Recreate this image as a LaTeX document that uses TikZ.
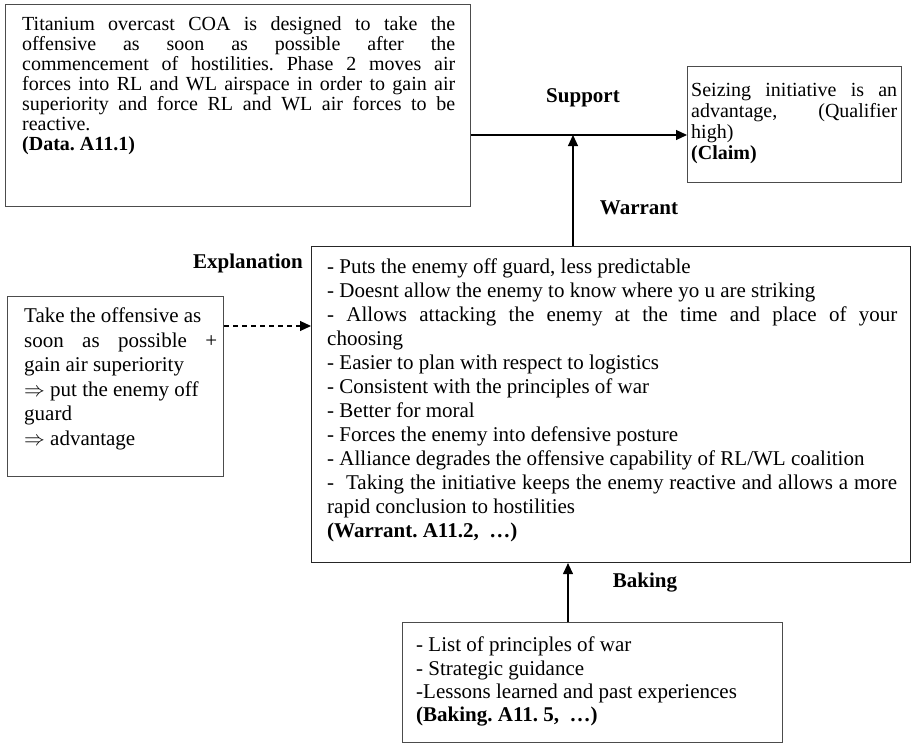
\documentclass[tikz,border=0pt]{standalone}
\usepackage{fontspec}
\setmainfont{Liberation Serif}
\usetikzlibrary{arrows.meta}
\AtBeginDocument{\frenchspacing}
\begin{document}
\begin{tikzpicture}[x=1pt,y=-1pt,
  box/.style={draw=black!70, line width=1.1pt, anchor=north west, inner sep=0pt},
  txt/.style={anchor=north west, inner sep=0pt, align=justify, font=\fontsize{21}{24}\selectfont},
  lbl/.style={font=\fontsize{21}{24}\selectfont\bfseries, inner sep=0pt},
  arr/.style={-{Triangle[length=11pt,width=10pt]}, line width=1.1pt, black}
]
\useasboundingbox (0,0) rectangle (911,744);
\fill[white] (0,0) rectangle (911,744);

% boxes
\node[box, minimum width=465pt, minimum height=202pt] (data) at (5,4) {};
\node[box, minimum width=214pt, minimum height=116pt] (claim) at (687,66) {};
\node[box, minimum width=216pt, minimum height=180pt] (expl) at (7,296) {};
\node[box, draw=black!85, minimum width=599pt, minimum height=316pt] (warrant) at (311,246) {};
\node[box, minimum width=380pt, minimum height=120pt] (baking) at (402,622) {};

% texts
\node[txt, text width=433pt, font=\fontsize{20}{20}\selectfont] (datatxt) at (22,16) {%
Titanium overcast COA is designed to take the\linebreak
offensive as soon as possible after the\linebreak
commencement of hostilities. Phase 2 moves air\linebreak
forces into RL and WL airspace in order to gain air\linebreak
superiority and force RL and WL air forces to be\linebreak
reactive.\\
\textbf{(Data. A11.1)}};

\node[txt, text width=206pt, font=\fontsize{20}{21}\selectfont] (claimtxt) at (691,83) {%
Seizing initiative is an\linebreak
advantage, (Qualifier\linebreak
high)\\
\textbf{(Claim)}};

\node[txt, text width=193pt, font=\fontsize{21}{24.5}\selectfont] (expltxt) at (24,308) {%
Take the offensive as\\
soon as possible +\linebreak
gain air superiority\\
$\Rightarrow$ put the enemy off\\
guard\\
$\Rightarrow$ advantage};

\node[txt, text width=570pt] (warranttxt) at (327,259) {%
- Puts the enemy off guard, less predictable\\
- Doesnt allow the enemy to know where yo u are striking\\
- Allows attacking the enemy at the time and place of your\linebreak
choosing\\
- Easier to plan with respect to logistics\\
- Consistent with the principles of war\\
- Better for moral\\
- Forces the enemy into defensive posture\\
- Alliance degrades the offensive capability of RL/WL coalition\\
-\ \ Taking the initiative keeps the enemy reactive and allows a more\linebreak
rapid conclusion to hostilities\\
\textbf{(Warrant. A11.2, \ …)}};

\node[txt, text width=360pt, font=\fontsize{21}{23.3}\selectfont] (bakingtxt) at (416,637) {%
- List of principles of war\\
- Strategic guidance\\
-Lessons learned and past experiences\\
\textbf{(Baking. A11. 5, \ …)}};

% labels
\node[lbl] (supportlbl) at (583,98) {Support};
\node[lbl] (warrantlbl) at (639,208) {Warrant};
\node[lbl, anchor=east] (expllbl) at (303,263) {Explanation};
\node[lbl] (bakinglbl) at (645,583) {Baking};

% connectors
\draw[arr] (data.east |- 0,135) coordinate (s0) -- (s0 -| claim.west);
\coordinate (wtop) at (573,135);
\draw[arr] (warrant.north -| wtop) -- (wtop);
\draw[arr, dash pattern=on 5pt off 4pt] (expl.east |- 0,326) coordinate (e0) -- (e0 -| warrant.west);
\draw[arr] (baking.north -| 568,0) -- (warrant.south -| 568,0);
\end{tikzpicture}
\end{document}
